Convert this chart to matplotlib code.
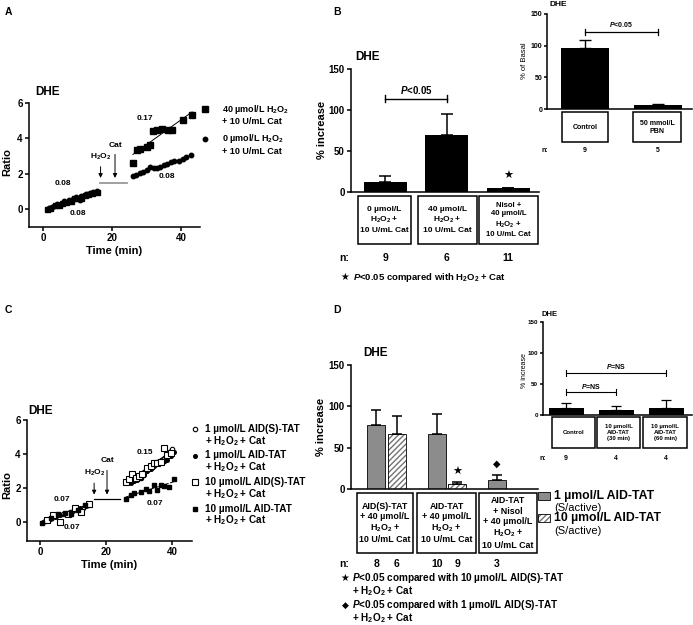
import numpy as np
import matplotlib
matplotlib.use('Agg')
import matplotlib.pyplot as plt
from matplotlib.patches import Rectangle
from matplotlib.lines import Line2D
from matplotlib.transforms import blended_transform_factory

plt.rcParams['font.family'] = ['Liberation Sans', 'DejaVu Sans']
plt.rcParams['font.weight'] = 'bold'
plt.rcParams['mathtext.fontset'] = 'custom'
plt.rcParams['mathtext.rm'] = 'Liberation Sans:bold'
plt.rcParams['mathtext.it'] = 'Liberation Sans:italic:bold'
plt.rcParams['mathtext.bf'] = 'Liberation Sans:bold'
plt.rcParams['mathtext.default'] = 'rm'

W, H = 693, 625
fig = plt.figure(figsize=(W / 100, H / 100), dpi=100)

# ---------------- data ----------------
# panel A: DHE ratio vs time
a_sq_pre_t = [1, 2, 3.5, 4.5, 5.5, 6.5, 8, 9, 10, 11, 12, 13, 14, 15.5]
a_sq_pre_r = [0.0, 0.05, 0.2, 0.25, 0.35, 0.4, 0.45, 0.6, 0.65, 0.6, 0.8, 0.85, 0.9, 0.95]
a_ci_pre_t = [1.5, 2.5, 3, 4, 5, 6, 7, 7.5, 8.5, 9.5, 10.5, 11, 12.5, 13.5, 14.5, 15.5]
a_ci_pre_r = [0.05, 0.1, 0.15, 0.3, 0.3, 0.45, 0.4, 0.5, 0.55, 0.7, 0.5, 0.75, 0.85, 0.9, 0.95, 1.0]
a_sq_post_t = [26, 27.2, 28.1, 30.1, 31.0, 31.8, 33.0, 34.4, 36.2, 37.4, 40.6, 43.2]
a_sq_post_r = [2.6, 3.35, 3.4, 3.5, 3.6, 4.4, 4.5, 4.55, 4.5, 4.5, 5.05, 5.3]
a_ci_post_t = [26, 27, 28, 29, 30, 31, 32, 33, 34, 35, 36, 37, 38, 39.5, 40.5, 41.5, 43]
a_ci_post_r = [1.85, 1.95, 2.05, 2.1, 2.2, 2.4, 2.35, 2.3, 2.4, 2.5, 2.55, 2.65, 2.7, 2.7, 2.85, 2.95, 3.05]
a_legend = [['40 µmol/L H$_2$O$_2$', '+ 10 U/mL Cat'], ['0 µmol/L H$_2$O$_2$', '+ 10 U/mL Cat']]

# panel C
c_oc_pre_t = [1.5, 3, 5, 7, 9, 11, 13, 14.5]
c_oc_pre_r = [0.05, 0.2, 0.35, 0.45, 0.6, 0.75, 0.85, 1.0]
c_fc_pre_t = [1, 2.5, 4.5, 6, 8, 10, 12, 14]
c_fc_pre_r = [0.0, 0.15, 0.3, 0.4, 0.55, 0.65, 0.8, 0.95]
c_os_pre_t = [2, 4, 6, 8.5, 10.5, 12.5, 15]
c_os_pre_r = [0.1, 0.4, 0.0, 0.5, 0.8, 0.6, 1.05]
c_fs_pre_t = [0.5, 3.5, 5.5, 7.5, 9.5, 11.5, 13.5]
c_fs_pre_r = [-0.05, 0.25, 0.45, 0.55, 0.5, 0.7, 1.0]
c_oc_post_t = [27, 28.5, 29.5, 30.5, 31.5, 32.5, 33.5, 34.5, 35.5, 36.5, 37.5, 38.5, 39.5, 40]
c_oc_post_r = [2.4, 2.45, 2.55, 2.6, 2.9, 3.1, 3.3, 3.5, 3.55, 3.6, 3.6, 3.9, 4.2, 4.3]
c_fc_post_t = [27.5, 28.5, 29.5, 30.5, 31.5, 32.5, 33.5, 34.5, 35.5, 36.5, 37.5, 38.5, 39.5, 40.5]
c_fc_post_r = [2.3, 2.4, 2.5, 2.6, 2.75, 3.0, 3.1, 3.3, 3.45, 3.5, 3.6, 3.65, 3.9, 4.1]
c_os_post_t = [26, 27, 28, 29, 30, 31, 32.5, 33.5, 34.5, 35.5, 36.5, 37.5, 38.5, 39.5]
c_os_post_r = [2.35, 2.55, 2.8, 2.6, 2.7, 2.85, 3.2, 3.3, 3.5, 3.45, 3.55, 4.35, 3.95, 4.05]
c_fs_post_t = [26, 27.5, 28.5, 30.5, 32, 33, 34.5, 35.5, 36.5, 37.5, 39, 40.5]
c_fs_post_r = [1.35, 1.6, 1.7, 1.75, 1.95, 1.8, 2.2, 1.9, 2.2, 2.1, 2.05, 2.55]
c_legend = [['1 µmol/L AID(S)-TAT', '+ H$_2$O$_2$ + Cat'], ['1 µmol/L AID-TAT', '+ H$_2$O$_2$ + Cat'],
            ['10 µmol/L AID(S)-TAT', '+ H$_2$O$_2$ + Cat'], ['10 µmol/L AID-TAT', '+ H$_2$O$_2$ + Cat']]

# panel B
b_labels = ['0 µmol/L\nH$_2$O$_2$ +\n10 U/mL Cat', '40 µmol/L\nH$_2$O$_2$ +\n10 U/mL Cat',
            'Nisol +\n40 µmol/L\nH$_2$O$_2$ +\n10 U/mL Cat']
b_vals = [12, 70, 5]
b_err = [8, 25, 0]
b_n = ['9', '6', '11']
bi_labels = ['Control', '50 mmol/L\nPBN']
bi_vals = [97, 6]
bi_err = [12, 2]
bi_n = ['9', '5']

# panel D
d_labels = ['AID(S)-TAT\n+ 40 µmol/L\nH$_2$O$_2$ +\n10 U/mL Cat', 'AID-TAT\n+ 40 µmol/L\nH$_2$O$_2$ +\n10 U/mL Cat',
            'AID-TAT\n+ Nisol\n+ 40 µmol/L\nH$_2$O$_2$ +\n10 U/mL Cat']
d_gray = [77, 66, 11]
d_gray_err = [18, 25, 6]
d_hatch = [67, 6]
d_hatch_err = [21, 3]
d_n_gray = ['8', '10', '3']
d_n_hatch = ['6', '9']
di_labels = ['Control', '10 µmol/L\nAID-TAT\n(30 min)', '10 µmol/L\nAID-TAT\n(60 min)']
di_vals = [12, 8, 12]
di_err = [7, 6, 13]
di_n = ['9', '4', '4']


def add_ax(l, t, r, b):
    return fig.add_axes([l / W, 1 - b / H, (r - l) / W, (b - t) / H])


def ftext(x, y, s, **kw):
    kw.setdefault('ha', 'left')
    kw.setdefault('va', 'center')
    return fig.text(x / W, 1 - y / H, s, **kw)


def fbox(l, t, r, b):
    fig.add_artist(Rectangle((l / W, 1 - b / H), (r - l) / W, (b - t) / H,
                             transform=fig.transFigure, fill=False, ec='black', lw=1.1))


def prism(ax, fs, xticks=True):
    for s in ['top', 'right']:
        ax.spines[s].set_visible(False)
    for s in ['left', 'bottom']:
        ax.spines[s].set_linewidth(1.1)
    ax.tick_params(direction='out', length=3, width=1.1, labelsize=fs, pad=1.5)
    if not xticks:
        ax.set_xticks([])
    for lab in ax.get_xticklabels() + ax.get_yticklabels():
        lab.set_fontweight('bold')


def bracket(ax, x0, x1, y, c, lw=1):
    ax.plot([x0, x1], [y, y], color='black', lw=lw, clip_on=False)
    ax.plot([x0, x0], [y - c, y + c], color='black', lw=lw, clip_on=False)
    ax.plot([x1, x1], [y - c, y + c], color='black', lw=lw, clip_on=False)


def fit(ax, t, r, ls='-'):
    k, b = np.polyfit(t, r, 1)
    tt = np.array([min(t), max(t)])
    ax.plot(tt, k * tt + b, color='black', lw=0.7, ls=ls, zorder=1)


def lines(x, y, rows, step, **kw):
    for i, s in enumerate(rows):
        ftext(x, y + i * step, s, **kw)


# ---------------- panel A ----------------
ftext(5, 12, 'A', fontsize=7.5)
ftext(35, 92, 'DHE', fontsize=8.5)
ax = add_ax(29, 103, 200, 226.7)
ax.set_xlim(-4.2, 45.5)
ax.set_ylim(-1, 6)
ax.set_yticks([0, 2, 4, 6])
ax.set_xticks([0, 20, 40])
prism(ax, 7)
ax.plot(a_ci_pre_t, a_ci_pre_r, 'o', ms=3.2, color='black', clip_on=False)
ax.plot(a_sq_pre_t, a_sq_pre_r, 's', ms=3.6, color='black', clip_on=False)
ax.plot(a_sq_post_t, a_sq_post_r, 's', ms=4, color='black', clip_on=False)
ax.plot(a_ci_post_t, a_ci_post_r, 'o', ms=3.2, color='black', clip_on=False)
fit(ax, a_sq_post_t, a_sq_post_r)
fit(ax, a_ci_post_t, a_ci_post_r)
ax.plot([16.4, 24.3], [1.47, 1.47], color='0.6', lw=1.3)
ax.annotate('', xy=(16.6, 1.6), xytext=(16.6, 2.55),
            arrowprops=dict(arrowstyle='-|>', color='black', lw=0.7, mutation_scale=6))
ax.annotate('', xy=(20.8, 1.6), xytext=(20.8, 3.25),
            arrowprops=dict(arrowstyle='-|>', color='black', lw=0.7, mutation_scale=6))
ax.text(16.6, 2.95, 'H$_2$O$_2$', fontsize=6, ha='center', va='center')
ax.text(20.8, 3.6, 'Cat', fontsize=6, ha='center', va='center')
ax.text(29.5, 5.1, '0.17', fontsize=6, ha='center', va='center')
ax.text(36, 1.85, '0.08', fontsize=6, ha='center', va='center')
ax.text(5.7, 1.45, '0.08', fontsize=6, ha='center', va='center')
ax.text(10, -0.25, '0.08', fontsize=6, ha='center', va='center')
ax.set_xlabel('Time (min)', fontsize=8, fontweight='bold', labelpad=2)
ftext(7, 162, 'Ratio', fontsize=8, rotation=90, ha='center')
fig.add_artist(Line2D([205 / W], [1 - 109 / H], marker='s', ms=4, color='black', transform=fig.transFigure))
fig.add_artist(Line2D([205 / W], [1 - 139 / H], marker='o', ms=3.2, color='black', transform=fig.transFigure))
lines(222, 109, a_legend[0], 13, fontsize=6.5)
lines(222, 139, a_legend[1], 13, fontsize=6.5)

# ---------------- panel C ----------------
ftext(5, 310, 'C', fontsize=7.5)
ftext(28, 411, 'DHE', fontsize=8.5)
ax = add_ax(27, 420, 192, 540.7)
ax.set_xlim(-3.9, 46)
ax.set_ylim(-1.1, 6)
ax.set_yticks([0, 2, 4, 6])
ax.set_xticks([0, 20, 40])
prism(ax, 7)
for t, r in [(c_oc_pre_t, c_oc_pre_r), (c_oc_post_t, c_oc_post_r)]:
    ax.plot(t, r, 'o', ms=3.2, mfc='white', mec='black', mew=0.8)
for t, r in [(c_fc_pre_t, c_fc_pre_r), (c_fc_post_t, c_fc_post_r)]:
    ax.plot(t, r, 'o', ms=2.6, color='black')
for t, r in [(c_os_pre_t, c_os_pre_r), (c_os_post_t, c_os_post_r)]:
    ax.plot(t, r, 's', ms=3.8, mfc='white', mec='black', mew=0.8)
for t, r in [(c_fs_pre_t, c_fs_pre_r), (c_fs_post_t, c_fs_post_r)]:
    ax.plot(t, r, 's', ms=3.2, color='black')
fit(ax, c_oc_post_t, c_oc_post_r)
fit(ax, c_fc_post_t, c_fc_post_r)
fit(ax, c_os_post_t, c_os_post_r)
fit(ax, c_fs_post_t, c_fs_post_r, ls='--')
ax.plot([16.4, 24.2], [1.35, 1.35], color='black', lw=0.9)
ax.annotate('', xy=(16.4, 1.45), xytext=(16.4, 2.45),
            arrowprops=dict(arrowstyle='-|>', color='black', lw=0.7, mutation_scale=6))
ax.annotate('', xy=(20.3, 1.45), xytext=(20.3, 3.2),
            arrowprops=dict(arrowstyle='-|>', color='black', lw=0.7, mutation_scale=6))
ax.text(16.4, 2.9, 'H$_2$O$_2$', fontsize=6, ha='center', va='center')
ax.text(20.3, 3.6, 'Cat', fontsize=6, ha='center', va='center')
ax.text(31.8, 4.1, '0.15', fontsize=6, ha='center', va='center')
ax.text(34.8, 1.1, '0.07', fontsize=6, ha='center', va='center')
ax.text(6.7, 1.35, '0.07', fontsize=6, ha='center', va='center')
ax.text(9.7, -0.3, '0.07', fontsize=6, ha='center', va='center')
ax.set_xlabel('Time (min)', fontsize=8, fontweight='bold', labelpad=2)
ftext(7, 485, 'Ratio', fontsize=8, rotation=90, ha='center')
c_marks = [dict(marker='o', ms=3.2, mfc='white', mec='black', mew=0.8),
           dict(marker='o', ms=2.6, color='black'),
           dict(marker='s', ms=3.8, mfc='white', mec='black', mew=0.8),
           dict(marker='s', ms=3.2, color='black')]
for i, (rows, mk) in enumerate(zip(c_legend, c_marks)):
    y0 = 429 + i * 26.5
    fig.add_artist(Line2D([195 / W], [1 - y0 / H], transform=fig.transFigure, **mk))
    lines(205, y0, rows, 12, fontsize=7.2)

# ---------------- panel B main ----------------
ftext(333, 12, 'B', fontsize=7.5)
ftext(355, 57, 'DHE', fontsize=8.5)
ax = add_ax(351, 69, 539, 192)
ax.set_xlim(-0.56, 2.5)
ax.set_ylim(0, 150)
ax.set_yticks([0, 50, 100, 150])
prism(ax, 7, xticks=False)
xb = np.arange(len(b_vals))
ax.bar(xb, b_vals, width=0.7, color='black')
ax.errorbar(xb, b_vals, yerr=[np.zeros(3), b_err], fmt='none', ecolor='black', elinewidth=1.1,
            capsize=4.5, capthick=1.1)
bracket(ax, 0, 1, 114, 4.5)
ax.text(0.5, 125, '$\\mathit{P}$<0.05', fontsize=7, ha='center', va='center')
ax.text(2, 20, '★', fontsize=8, ha='center', va='center')
ftext(322, 130, '% increase', fontsize=8, rotation=90, ha='center')
tr = blended_transform_factory(ax.transData, fig.transFigure)
for l, r, lab, xc in zip([358, 418, 479], [411, 477, 538], b_labels, xb):
    fbox(l, 196, r, 244)
    ftext((l + r) / 2, 220, lab, fontsize=6 if xc < 2 else 5.6, ha='center', linespacing=1.3)
ftext(339, 258, 'n:', fontsize=7.5)
for xc, n in zip(xb, b_n):
    ax.text(xc, 1 - 258 / H, n, transform=tr, fontsize=7.5, ha='center', va='center')
ftext(345, 277, '★', fontsize=7, ha='center')
ftext(353, 277, '$\\mathit{P}$<0.05 compared with H$_2$O$_2$ + Cat', fontsize=6.8)

# ---------------- panel B inset ----------------
ftext(550, 5, 'DHE', fontsize=6)
ax = add_ax(547, 14, 692, 109)
ax.set_xlim(-0.52, 1.47)
ax.set_ylim(0, 150)
ax.set_yticks([0, 50, 100, 150])
prism(ax, 5, xticks=False)
ax.tick_params(length=2)
xi = np.arange(len(bi_vals))
ax.bar(xi, bi_vals, width=0.66, color='black')
ax.errorbar(xi, bi_vals, yerr=[np.zeros(2), bi_err], fmt='none', ecolor='black', elinewidth=1,
            capsize=4, capthick=1)
bracket(ax, 0, 1, 122, 5, lw=0.9)
ax.text(0.5, 134, '$\\mathit{P}$<0.05', fontsize=5, ha='center', va='center')
ftext(525, 61, '% of Basal', fontsize=5.5, rotation=90, ha='center', fontweight='normal')
for l, r, lab in zip([562, 633], [608, 681], bi_labels):
    fbox(l, 112, r, 142)
    ftext((l + r) / 2, 127, lab, fontsize=5, ha='center', linespacing=1.2)
tr = blended_transform_factory(ax.transData, fig.transFigure)
ftext(542, 150, 'n:', fontsize=5)
for xc, n in zip(xi, bi_n):
    ax.text(xc, 1 - 150 / H, n, transform=tr, fontsize=5, ha='center', va='center')

# ---------------- panel D main ----------------
ftext(333, 310, 'D', fontsize=7.5)
ftext(363, 353, 'DHE', fontsize=8.5)
ax = add_ax(351, 365, 538, 489)
ax.set_xlim(-0.59, 2.51)
ax.set_ylim(0, 150)
ax.set_yticks([0, 50, 100, 150])
prism(ax, 7, xticks=False)
xg = np.arange(3) - 0.17
xh = np.arange(2) + 0.17
ax.bar(xg, d_gray, width=0.3, color='0.55', ec='black', lw=0.6)
ax.bar(xh, d_hatch, width=0.3, color='white', ec='0.45', lw=0, hatch='//////')
ax.bar(xh, d_hatch, width=0.3, fill=False, ec='black', lw=0.6)
ax.errorbar(xg, d_gray, yerr=[np.zeros(3), d_gray_err], fmt='none', ecolor='black', elinewidth=1.1,
            capsize=3.5, capthick=1.1)
ax.errorbar(xh, d_hatch, yerr=[np.zeros(2), d_hatch_err], fmt='none', ecolor='black', elinewidth=1.1,
            capsize=3.5, capthick=1.1)
ax.text(xh[1], 21, '★', fontsize=8, ha='center', va='center')
ax.text(xg[2], 30, '◆', fontsize=7, ha='center', va='center')
ftext(321, 427, '% increase', fontsize=8, rotation=90, ha='center')
for l, r, lab in zip([357, 417, 479], [413, 476, 537], d_labels):
    fbox(l, 493, r, 553)
    ftext((l + r) / 2, 523, lab, fontsize=6.4, ha='center', linespacing=1.2)
tr = blended_transform_factory(ax.transData, fig.transFigure)
ftext(339, 564, 'n:', fontsize=7.5)
for xc, n in list(zip(xg, d_n_gray)) + list(zip(xh, d_n_hatch)):
    ax.text(xc, 1 - 564 / H, n, transform=tr, fontsize=7.5, ha='center', va='center')
ftext(345, 578, '★', fontsize=7, ha='center')
lines(352, 578, ['$\\mathit{P}$<0.05 compared with 10 µmol/L AID(S)-TAT', '+ H$_2$O$_2$ + Cat'], 13,
      fontsize=7.2)
ftext(345, 605, '◆', fontsize=6.5, ha='center')
lines(352, 605, ['$\\mathit{P}$<0.05 compared with 1 µmol/L AID(S)-TAT', '+ H$_2$O$_2$ + Cat'], 13,
      fontsize=7.2)
fig.add_artist(Rectangle((538 / W, 1 - 500 / H), 12 / W, 8 / H, transform=fig.transFigure,
                         fc='0.55', ec='black', lw=0.6))
fig.add_artist(Rectangle((538 / W, 1 - 522 / H), 12 / W, 8 / H, transform=fig.transFigure,
                         fc='white', ec='0.45', lw=0, hatch='//////'))
fig.add_artist(Rectangle((538 / W, 1 - 522 / H), 12 / W, 8 / H, transform=fig.transFigure,
                         fill=False, ec='black', lw=0.6))
ftext(554, 496, '1 µmol/L AID-TAT', fontsize=8.8)
ftext(554, 508, '(S/active)', fontsize=8, fontweight='normal')
ftext(554, 518, '10 µmol/L AID-TAT', fontsize=8.8)
ftext(554, 531, '(S/active)', fontsize=8, fontweight='normal')

# ---------------- panel D inset ----------------
ftext(542, 315, 'DHE', fontsize=5.5)
ax = add_ax(543, 322, 692, 415)
ax.set_xlim(-0.46, 2.52)
ax.set_ylim(0, 150)
ax.set_yticks([0, 50, 100, 150])
prism(ax, 4.5, xticks=False)
ax.tick_params(length=2)
xd = np.arange(3)
ax.bar(xd, di_vals, width=0.7, color='black')
ax.errorbar(xd, di_vals, yerr=[np.zeros(3), di_err], fmt='none', ecolor='black', elinewidth=0.9,
            capsize=3.5, capthick=0.9)
bracket(ax, 0, 1, 37, 5, lw=0.8)
bracket(ax, 0, 2, 68, 5, lw=0.8)
ax.text(0.5, 46, '$\\mathit{P}$=NS', fontsize=5, ha='center', va='center')
ax.text(1.0, 79, '$\\mathit{P}$=NS', fontsize=5, ha='center', va='center')
ftext(524, 370, '% increase', fontsize=5, rotation=90, ha='center', fontweight='normal')
for l, r, lab in zip([552, 597, 643], [595, 640, 687], di_labels):
    fbox(l, 417, r, 448)
    ftext((l + r) / 2, 432.5, lab, fontsize=4.3, ha='center', linespacing=1.2)
tr = blended_transform_factory(ax.transData, fig.transFigure)
ftext(540, 459, 'n:', fontsize=5)
for xc, n in zip(xd, di_n):
    ax.text(xc, 1 - 459 / H, n, transform=tr, fontsize=5, ha='center', va='center')

fig.savefig('out.png', dpi=100)
